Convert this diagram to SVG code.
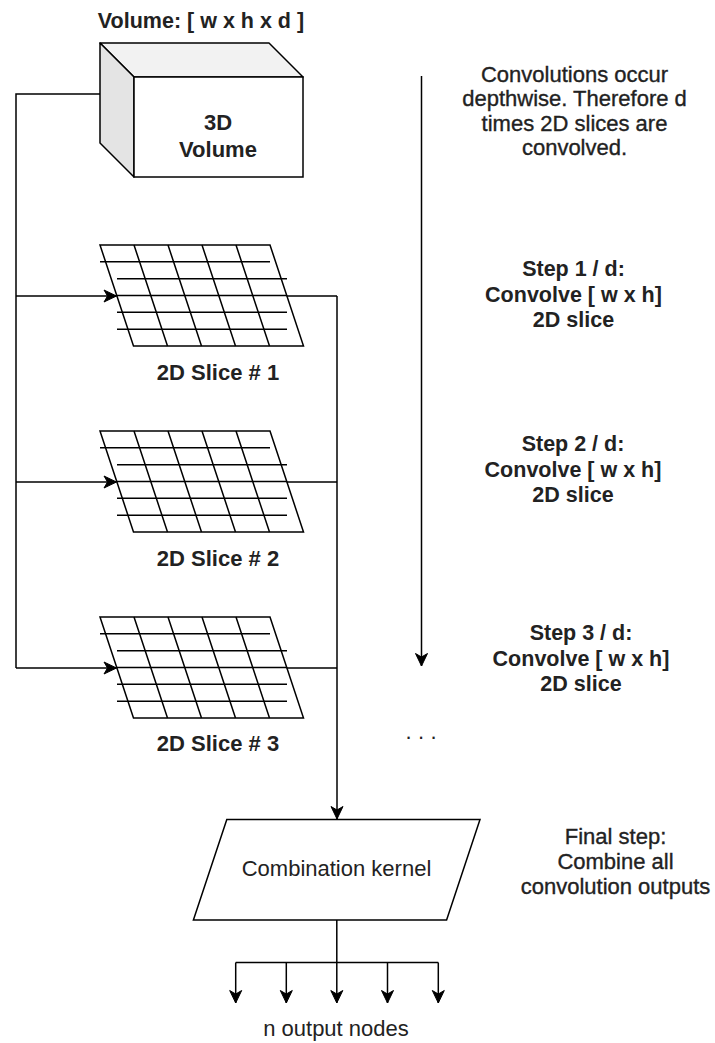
<svg xmlns="http://www.w3.org/2000/svg" xmlns:xlink="http://www.w3.org/1999/xlink" width="715" height="1043" viewBox="0 0 715 1043">
  <style>
    .line { fill: none; stroke: #000; stroke-width: 1.5; }
    .arrow { marker-end: url(#arrowHead); }
    .grid { fill: none; stroke: #000; stroke-width: 1.5; }
    .txt { font-family: "Liberation Sans", Arial, sans-serif; font-size: 22px; fill: #222; text-anchor: middle; }
    .b { font-weight: bold; }
    .semi { stroke: #222; stroke-width: 0.35px; }
  </style>
  <defs>
    <marker id="arrowHead" viewBox="-14 -7 15 14" refX="0" refY="0" markerWidth="15" markerHeight="14" orient="auto" markerUnits="userSpaceOnUse">
      <path d="M0,0 L-12.5,-6 L-9,0 L-12.5,6 Z" fill="#000" stroke="#000" stroke-width="1"/>
    </marker>
    <!-- one 2D slice: slanted outline, slanted columns, offset horizontal rows -->
    <g id="sliceGrid">
      <path class="grid" d="M0,0 L170,0 L203.5,101 L33.5,101 Z"/>
      <path class="grid" d="M34,0 L67.5,101 M68,0 L101.5,101 M102,0 L135.5,101 M136,0 L169.5,101"/>
      <path class="grid" d="M0,16.8 H170 M17,33.7 H187 M17,50.5 H187 M17,67.3 H187 M17,84.2 H187"/>
    </g>
  </defs>

  <rect width="715" height="1043" fill="#fff"/>

  <!-- connectors -->
  <g id="connectors">
    <!-- volume to each slice -->
    <path class="line" d="M100,94 H16 V668"/>
    <path class="line arrow" d="M16,296 H116.5"/>
    <path class="line arrow" d="M16,482 H116.5"/>
    <path class="line arrow" d="M16,668 H116.5"/>
    <!-- slices into the combination kernel -->
    <path class="line" d="M286.8,296 H337 M286.8,482 H337 M286.8,668 H337"/>
    <path class="line arrow" d="M337,296 V819"/>
    <!-- kernel fan-out -->
    <path class="line" d="M336.8,920 V962.5 M235.7,962.5 H438.3"/>
    <path class="line arrow" d="M235.7,962.5 V1003"/>
    <path class="line arrow" d="M286.3,962.5 V1003"/>
    <path class="line arrow" d="M336.8,962.5 V1003"/>
    <path class="line arrow" d="M387.5,962.5 V1003"/>
    <path class="line arrow" d="M438.3,962.5 V1003"/>
    <!-- depth direction -->
    <path class="line arrow" d="M421.5,76 V666"/>
  </g>

  <!-- 3D volume -->
  <g id="volume">
    <text class="txt b" x="201" y="28" style="font-size:21.5px">Volume: [ w x h x d ]</text>
    <path d="M100,43 L269,43 L303,77 L134,77 Z" fill="#f2f2f2" stroke="#000" stroke-width="1.5" stroke-linejoin="round"/>
    <path d="M100,43 L134,77 L134,177 L100,143 Z" fill="#e4e4e4" stroke="#000" stroke-width="1.5" stroke-linejoin="round"/>
    <rect x="134" y="77" width="169" height="100" fill="#fff" stroke="#000" stroke-width="1.5"/>
    <text class="txt b" x="218" y="130">3D</text>
    <text class="txt b" x="218" y="156.5">Volume</text>
  </g>

  <!-- 2D slices -->
  <g id="slice1">
    <use xlink:href="#sliceGrid" href="#sliceGrid" transform="translate(100,245)"/>
    <text class="txt b" x="218" y="380">2D Slice # 1</text>
  </g>
  <g id="slice2">
    <use xlink:href="#sliceGrid" href="#sliceGrid" transform="translate(100,431)"/>
    <text class="txt b" x="218" y="566">2D Slice # 2</text>
  </g>
  <g id="slice3">
    <use xlink:href="#sliceGrid" href="#sliceGrid" transform="translate(100,617)"/>
    <text class="txt b" x="218" y="751">2D Slice # 3</text>
  </g>

  <!-- combination kernel -->
  <g id="kernel">
    <path d="M226.8,819.5 L480,819.5 L446.6,920 L193.4,920 Z" fill="#fff" stroke="#000" stroke-width="1.5"/>
    <text class="txt" x="336.5" y="876">Combination kernel</text>
  </g>

  <g id="outputs">
    <text class="txt" x="336" y="1036">n output nodes</text>
  </g>

  <!-- annotations on the right -->
  <g id="note-depthwise">
    <text class="txt semi" x="574.5" y="81.5">Convolutions occur</text>
    <text class="txt semi" x="574.5" y="106">depthwise. Therefore d</text>
    <text class="txt semi" x="574.5" y="130.5">times 2D slices are</text>
    <text class="txt semi" x="574.5" y="155">convolved.</text>
  </g>
  <g id="note-step1">
    <text class="txt b" x="573.5" y="276" style="font-size:21.5px">Step 1 / d:</text>
    <text class="txt b" x="573.5" y="301.5" style="font-size:21.5px">Convolve [ w x h]</text>
    <text class="txt b" x="573.5" y="327" style="font-size:21.5px">2D slice</text>
  </g>
  <g id="note-step2">
    <text class="txt b" x="573" y="451" style="font-size:21.5px">Step 2 / d:</text>
    <text class="txt b" x="573" y="476.5" style="font-size:21.5px">Convolve [ w x h]</text>
    <text class="txt b" x="573" y="502" style="font-size:21.5px">2D slice</text>
  </g>
  <g id="note-step3">
    <text class="txt b" x="581" y="640" style="font-size:21.5px">Step 3 / d:</text>
    <text class="txt b" x="581" y="665.5" style="font-size:21.5px">Convolve [ w x h]</text>
    <text class="txt b" x="581" y="691" style="font-size:21.5px">2D slice</text>
  </g>
  <g id="ellipsis">
    <text class="txt" x="405.5" y="738.5" style="text-anchor:start;letter-spacing:6.4px">...</text>
  </g>
  <g id="note-final">
    <text class="txt semi" x="615.5" y="844">Final step:</text>
    <text class="txt semi" x="615.5" y="869">Combine all</text>
    <text class="txt semi" x="615.5" y="894">convolution outputs</text>
  </g>
</svg>
